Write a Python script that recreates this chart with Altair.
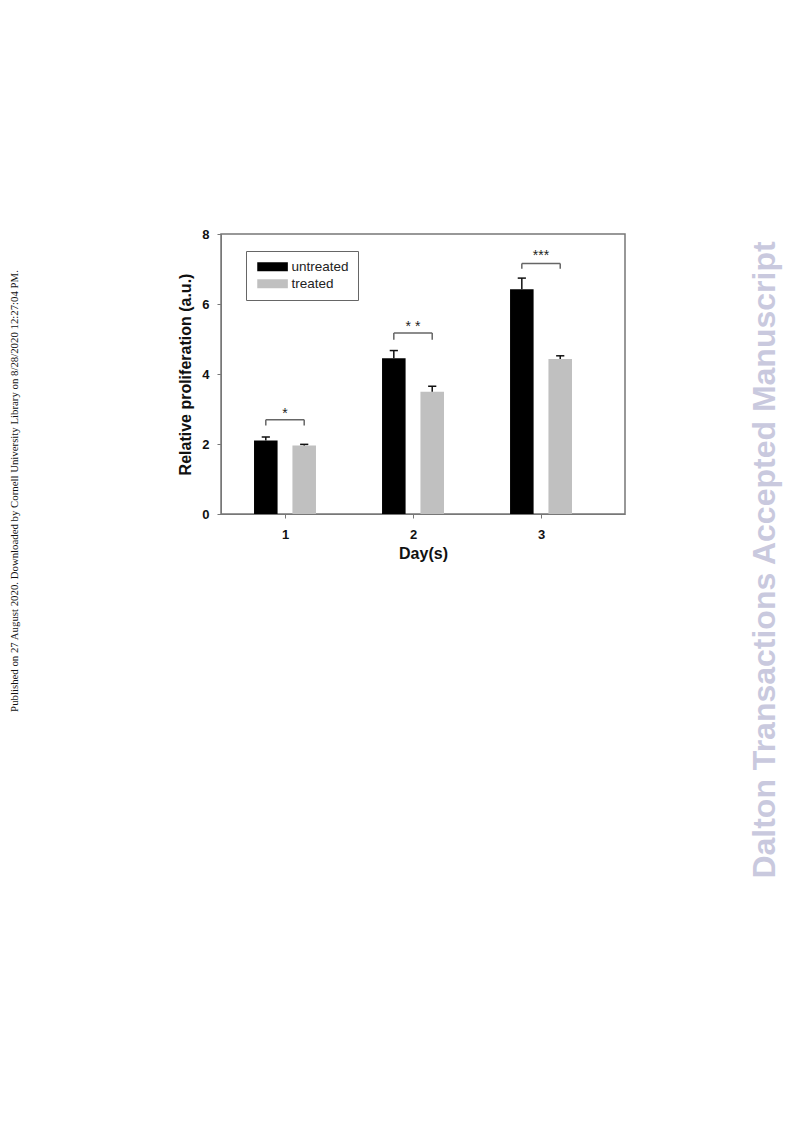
import altair as alt
import pandas as pd

# ---- data ----
days = [1, 2, 3]
groups = ["untreated", "treated"]
untreated_mean = [2.10, 4.45, 6.42]
untreated_err = [0.10, 0.22, 0.32]
treated_mean = [1.96, 3.49, 4.43]
treated_err = [0.03, 0.16, 0.09]
sig_labels = ["*", "* *", "***"]
bracket_top = [2.69, 5.17, 7.16]
bracket_leg = [2.53, 4.98, 7.01]
star_y = [2.93, 5.44, 7.46]
y_ticks = [0, 2, 4, 6, 8]
x_ticks = [1, 2, 3]
left_note = ("Published on 27 August 2020. Downloaded by Cornell University Library "
             "on 8/28/2020 12:27:04 PM.")
right_note = "Dalton Transactions Accepted Manuscript"

bars = pd.DataFrame({
    "day": days * 2,
    "group": [groups[0]] * 3 + [groups[1]] * 3,
    "mean": untreated_mean + treated_mean,
    "err": untreated_err + treated_err,
})
sig = pd.DataFrame({"day": days, "label": sig_labels, "top": bracket_top,
                    "leg": bracket_leg, "sy": star_y})

FONT = "Liberation Sans"
xscale = alt.Scale(domain=[0.5, 3.656], nice=False, zero=False)
yscale = alt.Scale(domain=[0, 8], nice=False)
xaxis = alt.Axis(values=x_ticks, format="d", title="Day(s)", grid=False,
                 labelFontWeight="bold", labelFontSize=13, labelPadding=10,
                 titleFontSize=16, titleFontWeight="bold", titlePadding=4,
                 tickSize=4, domainColor="#777", tickColor="#777",
                 labelColor="#111", titleColor="#111", labelFont=FONT, titleFont=FONT)
yaxis = alt.Axis(values=y_ticks, title="Relative proliferation (a.u.)", grid=False,
                 labelFontWeight="bold", labelFontSize=13, labelPadding=8,
                 titleFontSize=16, titleFontWeight="bold", titlePadding=8,
                 tickSize=4, domainColor="#777", tickColor="#777",
                 labelColor="#111", titleColor="#111", labelFont=FONT, titleFont=FONT)


def X(f):
    return alt.X(f, type="quantitative", scale=xscale, axis=xaxis)


def Y(f):
    return alt.Y(f, type="quantitative", scale=yscale, axis=yaxis)


base = alt.Chart(bars).transform_calculate(
    x0="datum.day + (datum.group == 'untreated' ? -0.242 : 0.058)",
).transform_calculate(
    x1="datum.x0 + 0.184",
    xc="datum.x0 + 0.092",
    top="datum.mean + datum.err",
    zero="0",
).transform_calculate(
    cl="datum.xc - 0.032",
    cr="datum.xc + 0.032",
)

bar_layer = base.mark_rect().encode(
    x=X("x0"), x2="x1", y=Y("mean"), y2="zero:Q",
    color=alt.Color("group:N",
                    scale=alt.Scale(domain=groups, range=["#000000", "#c0c0c0"]),
                    legend=alt.Legend(
                        orient="none", legendX=25, legendY=17, title=None,
                        symbolType="M-1,-1H5.8V1H-1Z", symbolSize=81,
                        symbolStrokeWidth=0, fillColor="white",
                        strokeColor="#666", padding=9, labelFontSize=13.5,
                        labelFont=FONT, labelColor="#222", labelOffset=23,
                        rowPadding=2)),
)
err_layer = base.mark_rule(color="#111", strokeWidth=1.5).encode(
    x=X("xc"), y=Y("mean"), y2="top:Q")
cap_layer = base.mark_rule(color="#111", strokeWidth=1.5).encode(
    x=X("cl"), x2="cr:Q", y=Y("top"))

sbase = alt.Chart(sig).transform_calculate(
    a="datum.day - 0.15", b="datum.day + 0.15")
br_h = sbase.mark_rule(color="#666", strokeWidth=1.5).encode(
    x=X("a"), x2="b:Q", y=Y("top"))
br_l = sbase.mark_rule(color="#666", strokeWidth=1.5).encode(
    x=X("a"), y=Y("top"), y2="leg:Q")
br_r = sbase.mark_rule(color="#666", strokeWidth=1.5).encode(
    x=X("b"), y=Y("top"), y2="leg:Q")
stars = sbase.mark_text(font=FONT, fontSize=14, color="#222", baseline="middle",
                        dy=3).encode(x=X("day"), y=Y("sy"), text="label:N")

notes = pd.DataFrame({"t": [left_note]})
left_txt = alt.Chart(notes).mark_text(
    angle=270, font="Liberation Serif", fontSize=10.8, color="#111",
    baseline="middle", align="center").encode(
    x=alt.value(-206), y=alt.value(257), text="t:N")
notes2 = pd.DataFrame({"t": [right_note]})
right_txt = alt.Chart(notes2).mark_text(
    angle=270, font=FONT, fontSize=32, fontWeight="bold", color="#c9c9de",
    baseline="middle", align="center").encode(
    x=alt.value(544), y=alt.value(326), text="t:N")

chart = alt.layer(bar_layer, err_layer, cap_layer, br_h, br_l, br_r, stars,
                  left_txt, right_txt).properties(
    width=404, height=280,
    padding={"left": 213, "top": 226, "right": 160, "bottom": 400},
    autosize=alt.AutoSizeParams(type="none"),
).configure_view(stroke="#777", strokeWidth=1.5)

chart.save("out.html", embed_options={"renderer": "svg", "actions": False})
